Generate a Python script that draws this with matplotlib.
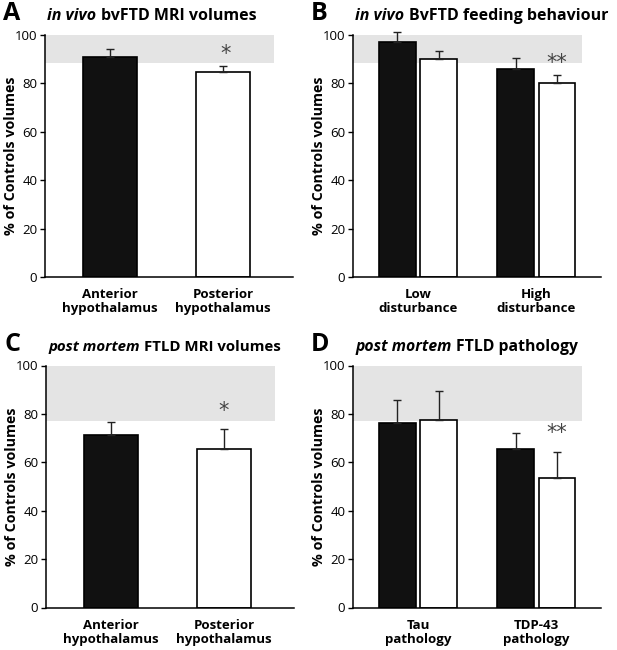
import matplotlib
matplotlib.use('Agg')
import matplotlib.pyplot as plt
import numpy as np

plt.rcParams['font.family'] = ['Open Sans', 'DejaVu Sans']

# Panel A: in vivo MRI volumes
a_labels = ['Anterior\nhypothalamus', 'Posterior\nhypothalamus']
a_values = [90.8, 84.7]
a_errors = [3.3, 2.5]
a_control_low = 88.5

# Panel B: in vivo feeding behaviour
b_labels = ['Low\ndisturbance', 'High\ndisturbance']
b_anterior = [97.1, 86.1]
b_anterior_err = [4.1, 4.5]
b_posterior = [90.0, 80.0]
b_posterior_err = [3.4, 3.3]
b_control_low = 88.3

# Panel C: post mortem MRI volumes
c_labels = ['Anterior\nhypothalamus', 'Posterior\nhypothalamus']
c_values = [71.3, 65.7]
c_errors = [5.3, 8.2]
c_control_low = 77.2

# Panel D: post mortem pathology
d_labels = ['Tau\npathology', 'TDP-43\npathology']
d_anterior = [76.3, 65.4]
d_anterior_err = [9.3, 6.7]
d_posterior = [77.3, 53.4]
d_posterior_err = [12.1, 10.9]
d_control_low = 77.2

yticks = [0, 20, 40, 60, 80, 100]

fig = plt.figure(figsize=(6.17, 6.5), dpi=100)

W = 248 / 617
H = 242 / 650
ax_a = fig.add_axes([45 / 617, 1 - 277 / 650, W, H])
ax_b = fig.add_axes([353 / 617, 1 - 277 / 650, W, H])
ax_c = fig.add_axes([46 / 617, 1 - 607.5 / 650, W, H])
ax_d = fig.add_axes([353 / 617, 1 - 607.5 / 650, W, H])

shade = '#e4e4e4'
ekw = dict(elinewidth=1.0, capsize=3, capthick=1.0, ecolor='#222222')


def unclip(container):
    for ln in container.errorbar.lines[1]:
        ln.set_clip_on(False)
    for coll in container.errorbar.lines[2]:
        coll.set_clip_on(False)


def style(ax, labels, control_low, letter, title_it, title_size):
    ax.axhspan(control_low, 100, xmin=0, xmax=0.925, color=shade, zorder=0, lw=0)
    ax.set_ylim(0, 100)
    ax.set_yticks(yticks)
    ax.tick_params(axis='y', length=3.5, width=1, labelsize=9.5, pad=2)
    ax.tick_params(axis='x', length=0, labelsize=9.5, pad=8)
    ax.set_xticks([0, 1])
    ax.set_xticklabels(labels, fontweight='bold', linespacing=1.1)
    ax.spines['top'].set_visible(False)
    ax.spines['right'].set_visible(False)
    ax.spines['left'].set_linewidth(1.1)
    ax.spines['bottom'].set_linewidth(1.1)
    ax.set_ylabel('% of Controls volumes', fontsize=10.3, fontweight='bold')
    ax.yaxis.set_label_coords(-0.11, 0.5)
    bb = ax.get_position()
    fig.text(bb.x0 - 0.068, bb.y1 + 0.0225, letter, fontsize=18, fontweight='bold',
             va='baseline', ha='left')
    fig.text(bb.x0 + 0.004, bb.y1 + 0.0225, title_it + ' ', fontsize=title_size,
             fontweight='bold', fontstyle='italic', va='baseline', ha='left')
    return bb


# Panel A
bars = ax_a.bar([0, 1], a_values, width=0.48, color=['#111111', 'white'], edgecolor='black',
                linewidth=1.2, yerr=[[0, 0], a_errors], error_kw=ekw, zorder=2)
unclip(bars)
ax_a.set_xlim(-0.575, 1.62)
ax_a.text(1.02, a_values[1] + a_errors[1] + 1.0, '*', ha='center', va='bottom',
          fontsize=15, color='#444444', family='DejaVu Sans')

# Panel B
off = 0.175
bw = 0.31
x = np.arange(2)
bars = ax_b.bar(x - off, b_anterior, width=bw, color='#111111', edgecolor='black', linewidth=1.2,
                yerr=[[0, 0], b_anterior_err], error_kw=ekw, zorder=2)
unclip(bars)
bars = ax_b.bar(x + off, b_posterior, width=bw, color='white', edgecolor='black', linewidth=1.2,
                yerr=[[0, 0], b_posterior_err], error_kw=ekw, zorder=2)
unclip(bars)
ax_b.set_xlim(-0.551, 1.548)
ax_b.text(1 + off, b_posterior[1] + b_posterior_err[1] + 1.0, '**', ha='center', va='bottom',
          fontsize=15, color='#444444', family='DejaVu Sans')

# Panel C
bars = ax_c.bar([0, 1], c_values, width=0.48, color=['#111111', 'white'], edgecolor='black',
                linewidth=1.2, yerr=[[0, 0], c_errors], error_kw=ekw, zorder=2)
unclip(bars)
ax_c.set_xlim(-0.575, 1.62)
ax_c.text(1.0, c_values[1] + c_errors[1] + 3.0, '*', ha='center', va='bottom',
          fontsize=15, color='#444444', family='DejaVu Sans')

# Panel D
bars = ax_d.bar(x - off, d_anterior, width=bw, color='#111111', edgecolor='black', linewidth=1.2,
                yerr=[[0, 0], d_anterior_err], error_kw=ekw, zorder=2)
unclip(bars)
bars = ax_d.bar(x + off, d_posterior, width=bw, color='white', edgecolor='black', linewidth=1.2,
                yerr=[[0, 0], d_posterior_err], error_kw=ekw, zorder=2)
unclip(bars)
ax_d.set_xlim(-0.551, 1.548)
ax_d.text(1 + off, d_posterior[1] + d_posterior_err[1] + 3.5, '**', ha='center', va='bottom',
          fontsize=15, color='#444444', family='DejaVu Sans')

panels = [
    (ax_a, a_labels, a_control_low, 'A', 'in vivo', 'bvFTD MRI volumes', 11.5),
    (ax_b, b_labels, b_control_low, 'B', 'in vivo', 'BvFTD feeding behaviour', 11.5),
    (ax_c, c_labels, c_control_low, 'C', 'post mortem', 'FTLD MRI volumes', 10.8),
    (ax_d, d_labels, d_control_low, 'D', 'post mortem', 'FTLD pathology', 11.3),
]

fig.canvas.draw()
renderer = fig.canvas.get_renderer()
for ax, labels, low, letter, t_it, t_rest, size in panels:
    bb = style(ax, labels, low, letter, t_it, size)
    # place the upright part right after the italic part
    it = fig.texts[-1]
    ext = it.get_window_extent(renderer=renderer)
    x1 = ext.x1 / fig.bbox.width
    fig.text(x1, bb.y1 + 0.0225, t_rest, fontsize=size, fontweight='bold',
             va='baseline', ha='left')

fig.savefig('out.png', dpi=100)
